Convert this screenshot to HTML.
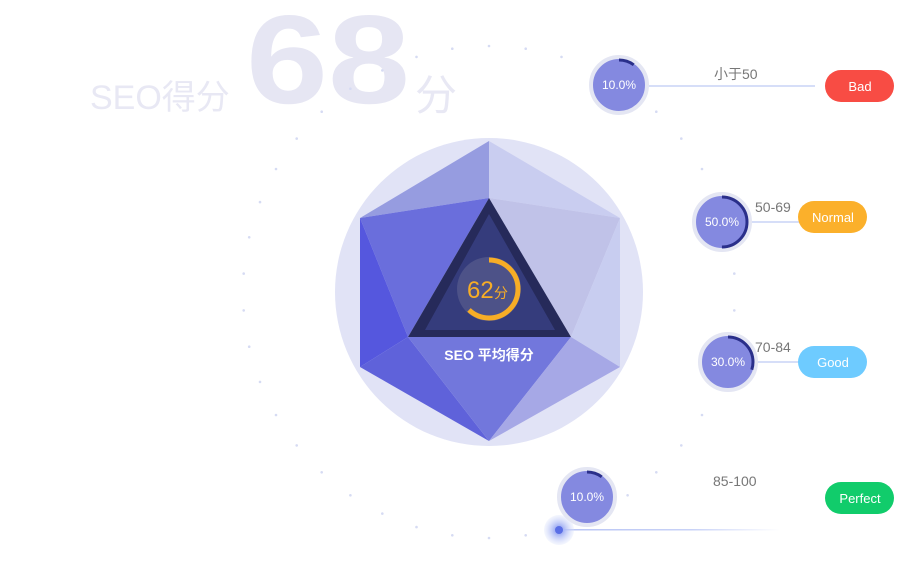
<!DOCTYPE html>
<html><head><meta charset="utf-8"><style>
body{margin:0;width:900px;height:556px;overflow:hidden;background:#fff;font-family:"Liberation Sans","Noto Sans CJK SC",sans-serif}
</style></head><body>
<svg width="900" height="556" viewBox="0 0 900 556" xmlns="http://www.w3.org/2000/svg" font-family="Liberation Sans, Noto Sans CJK SC, sans-serif">
<defs>
<linearGradient id="ln" gradientUnits="userSpaceOnUse" x1="560" y1="0" x2="780" y2="0"><stop offset="0" stop-color="#b8c4f5"/><stop offset="0.6" stop-color="#c8d2f7"/><stop offset="1" stop-color="#c8d2f7" stop-opacity="0"/></linearGradient>
<radialGradient id="glow"><stop offset="0.3" stop-color="#a9b6f5"/><stop offset="1" stop-color="#dbe2fb" stop-opacity="0.3"/></radialGradient>
</defs>
<text x="90" y="109" font-size="34" fill="#e8e8f4">SEO得分</text>
<text x="246" y="103" font-size="126" font-weight="bold" fill="#e6e6f3" textLength="164" lengthAdjust="spacingAndGlyphs">68</text>
<text x="415" y="110" font-size="42" fill="#e8e8f4">分</text>
<g fill="#d6dbf3" id="dots"></g>
<circle cx="489" cy="292" r="154" fill="#e1e3f6"/>
<polygon points="489,141 360,218 489,198" fill="#969ce0"/>
<polygon points="489,141 620,218 489,198" fill="#c9cdf0"/>
<polygon points="360,218 489,198 408,337" fill="#6a6edc"/>
<polygon points="360,218 408,337 360,367" fill="#5557de"/>
<polygon points="620,218 489,198 571,337" fill="#c0c2e8"/>
<polygon points="620,218 571,337 620,367" fill="#c8cdf0"/>
<polygon points="360,367 408,337 489,441" fill="#5f62da"/>
<polygon points="408,337 571,337 489,441" fill="#7277dc"/>
<polygon points="571,337 620,367 489,441" fill="#a6a8e6"/>
<polygon points="489,198 408,337 571,337" fill="#262a5a"/>
<polygon points="489,214 425,330 555,330" fill="#353c7c"/>
<circle cx="489" cy="289" r="32" fill="#4d5288"/>
<circle cx="489" cy="289" r="29" fill="none" stroke="#f7ad26" stroke-width="5" stroke-dasharray="113 200" transform="rotate(-90 489 289)"/>
<text x="467" y="298" font-size="24" fill="#f7ad26">62</text>
<text x="494" y="298" font-size="14" fill="#f7ad26">分</text>
<text x="489" y="360" font-size="14" font-weight="bold" fill="#fff" text-anchor="middle">SEO 平均得分</text>
<line x1="640" y1="86" x2="815" y2="86" stroke="#c9d3f5" stroke-width="1.5"/>
<line x1="745" y1="222" x2="800" y2="222" stroke="#c9d3f5" stroke-width="1.5"/>
<line x1="750" y1="362" x2="800" y2="362" stroke="#c9d3f5" stroke-width="1.5"/>
<rect x="560" y="529" width="220" height="1.5" fill="url(#ln)"/>
<circle cx="559" cy="530" r="15" fill="url(#glow)"/>
<circle cx="559" cy="530" r="4" fill="#5a6ee6"/>
<g font-size="12" fill="#fff" text-anchor="middle">
<g transform="translate(619,85)"><circle r="28" fill="#8489e0" stroke="#e4e6f3" stroke-width="4"/><circle r="25" fill="none" stroke="#2a2f8a" stroke-width="3" stroke-dasharray="15.7 200" transform="rotate(-90)"/><text y="4">10.0%</text></g>
<g transform="translate(722,222)"><circle r="28" fill="#8489e0" stroke="#e4e6f3" stroke-width="4"/><circle r="25" fill="none" stroke="#2a2f8a" stroke-width="3" stroke-dasharray="78.5 200" transform="rotate(-90)"/><text y="4">50.0%</text></g>
<g transform="translate(728,362)"><circle r="28" fill="#8489e0" stroke="#e4e6f3" stroke-width="4"/><circle r="25" fill="none" stroke="#2a2f8a" stroke-width="3" stroke-dasharray="47 200" transform="rotate(-90)"/><text y="4">30.0%</text></g>
<g transform="translate(587,497)"><circle r="28" fill="#8489e0" stroke="#e4e6f3" stroke-width="4"/><circle r="25" fill="none" stroke="#2a2f8a" stroke-width="3" stroke-dasharray="15.7 200" transform="rotate(-90)"/><text y="4">10.0%</text></g>
</g>
<g font-size="14" fill="#777">
<text x="714" y="79">小于50</text>
<text x="755" y="212">50-69</text>
<text x="755" y="352">70-84</text>
<text x="713" y="486">85-100</text>
</g>
<g font-size="13" fill="#fff" text-anchor="middle">
<rect x="825" y="70" width="69" height="32" rx="16" fill="#f84c44"/><text x="860" y="91">Bad</text>
<rect x="798" y="201" width="69" height="32" rx="16" fill="#fbb02b"/><text x="833" y="222">Normal</text>
<rect x="798" y="346" width="69" height="32" rx="16" fill="#6ecbff"/><text x="833" y="367">Good</text>
<rect x="825" y="482" width="69" height="32" rx="16" fill="#11cc6b"/><text x="860" y="503">Perfect</text>
</g>
</svg>
<script>
var g=document.getElementById('dots'),s='';
for(var i=0;i<42;i++){var a=i/42*2*Math.PI;var x=489+246*Math.sin(a),y=292-246*Math.cos(a);s+='<circle cx="'+x.toFixed(1)+'" cy="'+y.toFixed(1)+'" r="1.3"/>';}
g.innerHTML=s;
</script>
</body></html>
